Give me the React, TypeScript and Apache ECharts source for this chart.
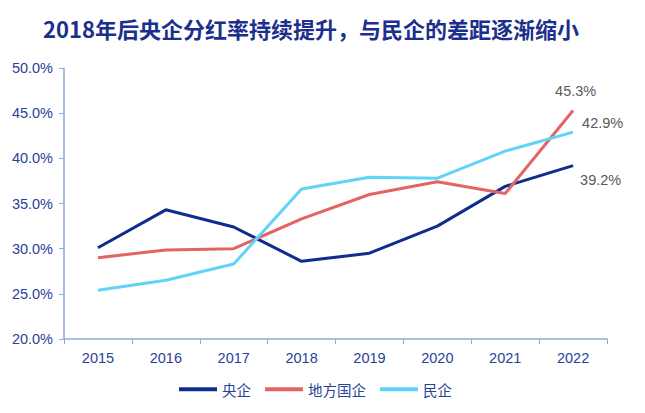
import React, { useEffect, useRef } from "react";
import * as echarts from "echarts";

const years = ["2015", "2016", "2017", "2018", "2019", "2020", "2021", "2022"];
const central = [30.1, 34.3, 32.4, 28.6, 29.5, 32.5, 36.9, 39.2];
const local = [29.0, 29.85, 30.0, 33.3, 36.0, 37.4, 36.1, 45.3];
const privateEnt = [25.4, 26.5, 28.3, 36.6, 37.9, 37.8, 40.8, 42.9];
const seriesNames = ["央企", "地方国企", "民企"];
const colors = ["#0f2d8f", "#e46464", "#5fd3f8"];

export default function App() {
  const ref = useRef<HTMLDivElement>(null);
  useEffect(() => {
    const chart = echarts.init(ref.current!, null, { renderer: "svg" });
    const mk = (name: string, data: number[], color: string, offset: number[]) => ({
      name,
      type: "line",
      data,
      symbol: "none",
      clip: false,
      lineStyle: { width: 3, color },
      itemStyle: { color },
      endLabel: {
        show: true,
        formatter: (p: any) => Number(p.value).toFixed(1) + "%",
        color: "#595959",
        fontSize: 14.5,
        fontFamily: "Liberation Sans",
        offset,
      },
      z: 3,
    });
    chart.setOption({
      animation: false,
      title: {
        text: "2018年后央企分红率持续提升，与民企的差距逐渐缩小",
        left: 35,
        top: 9,
        padding: 0,
        textStyle: {
          fontFamily: "Noto Sans CJK SC",
          fontWeight: "bold",
          fontSize: 22,
          color: "#1b2f8c",
        },
      },
      legend: {
        data: seriesNames.map((n, i) => ({ name: n, itemStyle: { color: colors[i] } })),
        left: 171,
        top: 374,
        padding: 0,
        itemWidth: 38,
        itemHeight: 4,
        itemGap: 14,
        icon: "rect",
        textStyle: { fontFamily: "Noto Sans CJK SC", fontSize: 14.5, color: "#2a3f98" },
      },
      grid: { left: 56, right: 30, top: 60, bottom: 66 },
      xAxis: {
        type: "category",
        data: years,
        boundaryGap: true,
        axisLine: { lineStyle: { color: "#8eaadb", width: 1.5 } },
        axisTick: { show: true, lineStyle: { color: "#8eaadb" } },
        axisLabel: { color: "#2a3f98", fontSize: 14.5, fontFamily: "Liberation Sans", margin: 11 },
      },
      yAxis: {
        type: "value",
        min: 20,
        max: 50,
        interval: 5,
        axisLine: { show: true, lineStyle: { color: "#8eaadb", width: 1.5 } },
        axisTick: { show: true, lineStyle: { color: "#8eaadb" } },
        splitLine: { show: false },
        axisLabel: {
          color: "#2a3f98",
          fontSize: 14.5,
          fontFamily: "Liberation Sans",
          margin: 11,
          formatter: (v: number) => v.toFixed(1) + "%",
        },
      },
      series: [
        mk(seriesNames[0], central, colors[0], [-1, 14]),
        mk(seriesNames[1], local, colors[1], [-26, -19]),
        mk(seriesNames[2], privateEnt, colors[2], [1, -9]),
      ],
    });
    return () => chart.dispose();
  }, []);
  return <div ref={ref} style={{ width: 629, height: 397 }} />;
}
